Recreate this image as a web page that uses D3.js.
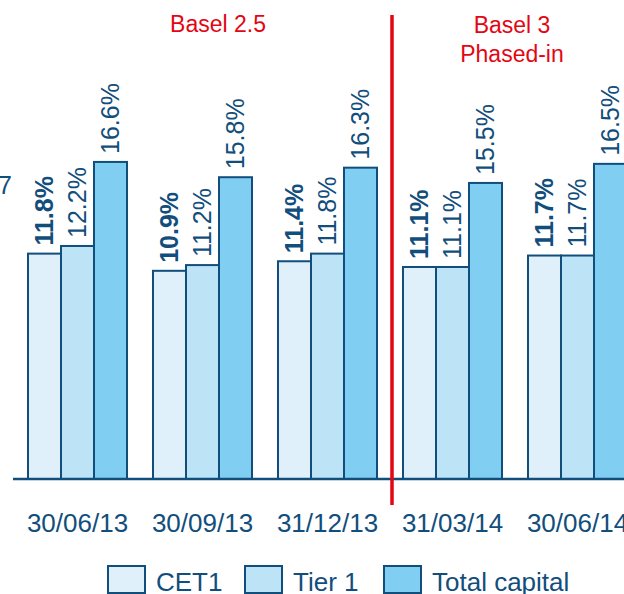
<!DOCTYPE html>
<html>
<head>
<meta charset="utf-8">
<script src="https://cdn.jsdelivr.net/npm/d3@7"></script>
<style>
body { margin: 0; background: #fff; }
svg { display: block; font-family: Arial, "Liberation Sans", sans-serif; }
</style>
</head>
<body>
<div id="container"></div>
<script>
var width = 624, height = 594;

var dates = ["30/06/13", "30/09/13", "31/12/13", "31/03/14", "30/06/14"];
var series = ["CET1", "Tier 1", "Total capital"];
var cet1 = [11.8, 10.9, 11.4, 11.1, 11.7];
var tier1 = [12.2, 11.2, 11.8, 11.1, 11.7];
var totalCapital = [16.6, 15.8, 16.3, 15.5, 16.5];

var values = [cet1, tier1, totalCapital];
var fills = ["#dff0fb", "#bde3f7", "#80cff2"];
var ink = "#124e7c";
var red = "#e30613";

var xScale = d3.scaleBand().domain(dates).range([15, 640])
	.paddingInner(0.208).paddingOuter(0.104);
var x1 = d3.scaleBand().domain(series).range([0, xScale.bandwidth()]);
var yScale = d3.scaleLinear().domain([0, 25]).range([479, 1.5]);

var translate = function (x, y) {
	return "translate(" + x + "," + y + ")";
};

function visualize() {
	var svg = d3.select('#container')
		.append('svg')
		.attr('width', width)
		.attr('height', height);

	// stray label cut off at the left edge
	svg.append('text')
		.attr('x', 12).attr('y', 194)
		.attr('text-anchor', 'end')
		.attr('font-size', 25)
		.attr('fill', ink)
		.text('7');

	// bars
	var groups = svg.selectAll('g.grp').data(dates).enter()
		.append('g')
		.attr('class', 'grp')
		.attr('transform', function(d){ return translate(xScale(d), 0); });

	series.forEach(function(s, si){
		groups.append('rect')
			.attr('x', x1(s))
			.attr('y', function(d, i){ return yScale(values[si][i]); })
			.attr('width', x1.bandwidth())
			.attr('height', function(d, i){ return yScale(0) - yScale(values[si][i]); })
			.attr('fill', fills[si])
			.attr('stroke', ink)
			.attr('stroke-width', 2);

		groups.append('text')
			.attr('transform', function(d, i){
				return translate(x1(s) + x1.bandwidth() / 2, yScale(values[si][i]) - 8) + " rotate(-90)";
			})
			.attr('dy', '0.35em')
			.attr('text-anchor', 'start')
			.attr('font-size', 25)
			.attr('font-weight', si === 0 ? 'bold' : 'normal')
			.attr('fill', ink)
			.text(function(d, i){ return values[si][i].toFixed(1) + "%"; });
	});

	// baseline
	svg.append('line')
		.attr('x1', 13).attr('x2', width)
		.attr('y1', yScale(0)).attr('y2', yScale(0))
		.attr('stroke', ink)
		.attr('stroke-width', 2.5);

	// category labels
	var xAxis = d3.axisBottom(xScale).tickSize(0).tickPadding(35);
	var ax = svg.append('g')
		.attr('transform', translate(0, yScale(0)))
		.call(xAxis);
	ax.select('.domain').remove();
	ax.selectAll('text')
		.attr('font-size', 26)
		.attr('font-family', 'Arial, "Liberation Sans", sans-serif')
		.attr('fill', ink);

	// regime divider
	svg.append('line')
		.attr('x1', 392).attr('x2', 392)
		.attr('y1', 15).attr('y2', 505)
		.attr('stroke', red)
		.attr('stroke-width', 3.5);

	svg.append('text')
		.attr('x', 218).attr('y', 32)
		.attr('text-anchor', 'middle')
		.attr('font-size', 23)
		.attr('fill', red)
		.text('Basel 2.5');

	svg.append('text')
		.attr('x', 512).attr('y', 33)
		.attr('text-anchor', 'middle')
		.attr('font-size', 23)
		.attr('fill', red)
		.text('Basel 3');

	svg.append('text')
		.attr('x', 512).attr('y', 62)
		.attr('text-anchor', 'middle')
		.attr('font-size', 23)
		.attr('fill', red)
		.text('Phased-in');

	// legend
	var legendX = [108, 245, 384];
	var lg = svg.selectAll('g.lg').data(series).enter()
		.append('g')
		.attr('class', 'lg')
		.attr('transform', function(d, i){ return translate(legendX[i], 566); });
	lg.append('rect')
		.attr('width', 37).attr('height', 27)
		.attr('fill', function(d, i){ return fills[i]; })
		.attr('stroke', ink)
		.attr('stroke-width', 2);
	lg.append('text')
		.attr('x', 48).attr('y', 25)
		.attr('font-size', 26)
		.attr('fill', ink)
		.text(function(d){ return d; });
}

window.onload = visualize;
</script>
</body>
</html>
